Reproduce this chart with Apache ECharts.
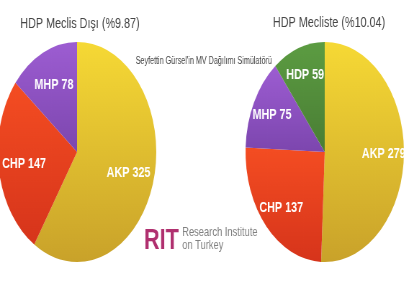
<!DOCTYPE html>
<html>
<head>
<meta charset="utf-8">
<script src="https://cdn.jsdelivr.net/npm/echarts@6/dist/echarts.min.js"></script>
<style>
	html, body { margin: 0; padding: 0; background: #fff; overflow: hidden; }
	/* the source picture is squeezed sideways, so draw wide and squeeze */
	#wrap { width: 406px; height: 281px; overflow: hidden; }
	#mvChart { width: 564px; height: 281px; transform: scaleX(0.72); transform-origin: 0 0; }
</style>
</head>
<body>
<div id="wrap"><div id="mvChart"></div></div>
<script>
	// HDP barajın altında kalırsa
	const leftCategories = ["AKP", "CHP", "MHP"];
	const leftSeats = [325, 147, 78];
	// HDP meclise girerse
	const rightCategories = ["AKP", "CHP", "MHP", "HDP"];
	const rightSeats = [279, 137, 75, 59];
	const leftTitle = "HDP Meclis Dışı (%9.87)";
	const rightTitle = "HDP Mecliste (%10.04)";
	const subTitle = "Seyfettin Gürsel'in MV Dağılımı Simülatörü";

	const partyColors = {
		AKP: ["#f6d935", "#c9a22a"],
		CHP: ["#f44d22", "#d6341b"],
		MHP: ["#9d5dd2", "#7c46ae"],
		HDP: ["#5c9c42", "#497d34"],
	};

	const chart = echarts.init(document.getElementById("mvChart"));

	function sliceData(names, values) {
		return names.map(function (n, i) {
			const c = partyColors[n];
			return {
				name: n,
				value: values[i],
				itemStyle: {
					color: new echarts.graphic.LinearGradient(0, 0, 0, 1, [
						{ offset: 0, color: c[0] },
						{ offset: 1, color: c[1] },
					]),
				},
			};
		});
	}

	function labelData(names, values) {
		return names.map(function (n, i) {
			return { name: n, value: values[i] };
		});
	}

	const labelStyle = {
		show: true,
		position: "inside",
		formatter: "{b} {c}",
		color: "#fff",
		fontFamily: "Liberation Sans",
		fontWeight: "bold",
		fontSize: 15,
	};

	function pie(center, data) {
		return {
			type: "pie",
			center: center,
			radius: [0, 110],
			startAngle: 90,
			clockwise: true,
			label: { show: false },
			labelLine: { show: false },
			itemStyle: { borderWidth: 0 },
			silent: true,
			data: data,
		};
	}

	// transparent ring only used to push the labels outwards
	function labelRing(center, inner, data) {
		return {
			type: "pie",
			center: center,
			radius: [inner, 110],
			startAngle: 90,
			clockwise: true,
			label: labelStyle,
			labelLine: { show: false },
			itemStyle: { color: "rgba(0,0,0,0)", borderWidth: 0 },
			silent: true,
			data: data,
		};
	}

	const option = {
		animation: false,
		backgroundColor: "#fff",
		title: [
			{
				text: leftTitle,
				left: 106,
				top: 11,
				textAlign: "center",
				textStyle: { fontFamily: "Liberation Sans", fontWeight: "normal", fontSize: 15, color: "#444" },
			},
			{
				text: rightTitle,
				left: 452,
				top: 10,
				textAlign: "center",
				textStyle: { fontFamily: "Liberation Sans", fontWeight: "normal", fontSize: 15, color: "#444" },
			},
			{
				text: subTitle,
				left: 278,
				top: 51,
				textAlign: "center",
				textStyle: { fontFamily: "Liberation Sans", fontWeight: "normal", fontSize: 10, color: "#444" },
			},
		],
		graphic: [
			{
				type: "text",
				left: 200,
				top: 226,
				style: { text: "RIT", fontFamily: "Liberation Sans", fontWeight: "bold", fontSize: 30, fill: "#b0306f" },
			},
			{
				type: "text",
				left: 253,
				top: 226,
				style: {
					text: "Research Institute\non Turkey",
					fontFamily: "Liberation Sans",
					fontSize: 13,
					lineHeight: 13,
					fill: "#808080",
				},
			},
		],
		series: [
			pie([107, 152], sliceData(leftCategories, leftSeats)),
			pie([451, 152], sliceData(rightCategories, rightSeats)),
			labelRing([107, 152], 33, labelData(leftCategories, leftSeats)),
			labelRing([451, 152], 48, labelData(rightCategories, rightSeats)),
		],
	};
	chart.setOption(option);
</script>
</body>
</html>
